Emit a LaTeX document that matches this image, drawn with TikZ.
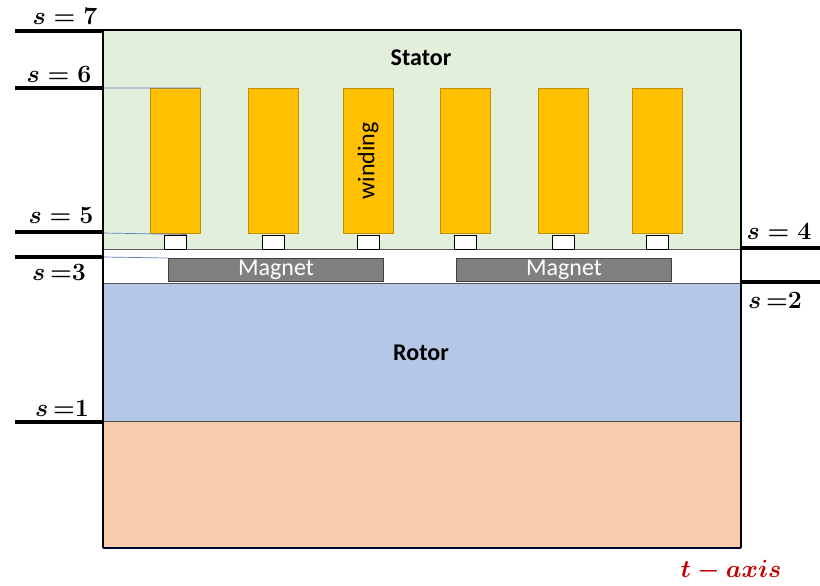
\documentclass[tikz,border=0pt]{standalone}
\usepackage{fontspec}
\setmainfont{Carlito}
\definecolor{statorc}{HTML}{E2EFDA}
\definecolor{windc}{HTML}{FFC000}
\definecolor{windb}{HTML}{BF9000}
\definecolor{rotorc}{HTML}{B4C7E7}
\definecolor{basec}{HTML}{F8CBAD}
\definecolor{magc}{HTML}{7F7F7F}
\definecolor{magb}{HTML}{404040}
\definecolor{tred}{HTML}{C00000}
\definecolor{thinblue}{HTML}{5B80C4}
\begin{document}
\begin{tikzpicture}[x=1pt,y=-1pt,
  windbox/.style={draw=windb,fill=windc,line width=0.8pt,minimum width=50pt,minimum height=145pt,inner sep=0pt},
  toothbox/.style={draw=black,fill=white,line width=0.8pt,minimum width=22pt,minimum height=14pt,inner sep=0pt,anchor=north},
  magbox/.style={draw=magb,fill=magc,line width=1pt,minimum width=215pt,minimum height=23pt,inner sep=0pt,text=white,font=\fontsize{24}{26}\selectfont},
  sline/.style={line width=4pt},
  slabel/.style={font=\fontsize{23}{25}\selectfont\boldmath},
  biglabel/.style={font=\fontsize{24}{26}\selectfont\bfseries},
  thinline/.style={draw=thinblue,line width=0.7pt}]
\useasboundingbox (0,0) rectangle (820,586);
% regions
\fill[basec] (103,421) rectangle (741,548);
\fill[rotorc] (103,283) rectangle (741,421);
\fill[white] (103,249) rectangle (741,283);
\fill[statorc] (103,30) rectangle (741,249);
\draw[gray!70!black,line width=0.8pt] (103,249) -- (741,249);
\draw[gray!70!black,line width=0.8pt] (103,283) -- (741,283);
\draw[black!70,line width=0.8pt] (103,421) -- (741,421);
% windings and teeth
\foreach \i/\x in {1/175.5,2/273,3/368,4/465,5/563,6/657}{
  \node[windbox] (w\i) at (\x,161) {};
  \node[toothbox] (t\i) at (\x,234.5) {};
}
\node[rotate=90,font=\fontsize{24}{26}\selectfont] (wlab) at (w3) {winding};
% magnets
\node[magbox] (m1) at (276,270) {Magnet};
\node[magbox] (m2) at (564,270) {Magnet};
% thin blue lines
\coordinate (b6) at (103,88);
\coordinate (b5) at (103,233);
\coordinate (b3) at (103,257);
\draw[thinline] (b6) -- (w1.north east);
\draw[thinline] (b5) -- (t1.north east);
\draw[thinline] (b3) -- (m1.north west);
% outer borders
\draw[black,line width=1.2pt] (103,30) -- (103,548);
\draw[black,line width=2pt] (103,30) -- (741,30);
\draw[black,line width=2.5pt] (741,30) -- (741,548);
\draw[black!80!blue,line width=1.2pt] (103,548) -- (741,548);
% s lines
\coordinate (L7) at (103,31);
\coordinate (L6) at (103,88);
\coordinate (L5) at (103,232);
\coordinate (L3) at (103,257);
\coordinate (L1) at (103,422);
\coordinate (R4) at (741,248);
\coordinate (R2) at (741,282);
\foreach \c in {L7,L6,L5,L3,L1}{\draw[sline] (\c) -- ++(-88,0);}
\foreach \c in {R4,R2}{\draw[sline] (\c) -- ++(79,0);}
% labels
\node[slabel] (s7) at (65,16) {$s=7$};
\node[slabel] (s6) at (59,74) {$s=6$};
\node[slabel] (s5) at (61,215) {$s=5$};
\node[slabel] (s3) at (59,272) {$s\,{=}3$};
\node[slabel] (s1) at (62,408) {$s\,{=}1$};
\node[slabel] (s4) at (779,231) {$s=4$};
\node[slabel] (s2) at (775,300) {$s\,{=}2$};
\node[biglabel] (stator) at (421,58) {Stator};
\node[biglabel] (rotor) at (421,353) {Rotor};
\node[text=tred,font=\fontsize{23}{25}\selectfont\boldmath] (tax) at (731,571) {$t-axis$};
\end{tikzpicture}
\end{document}
